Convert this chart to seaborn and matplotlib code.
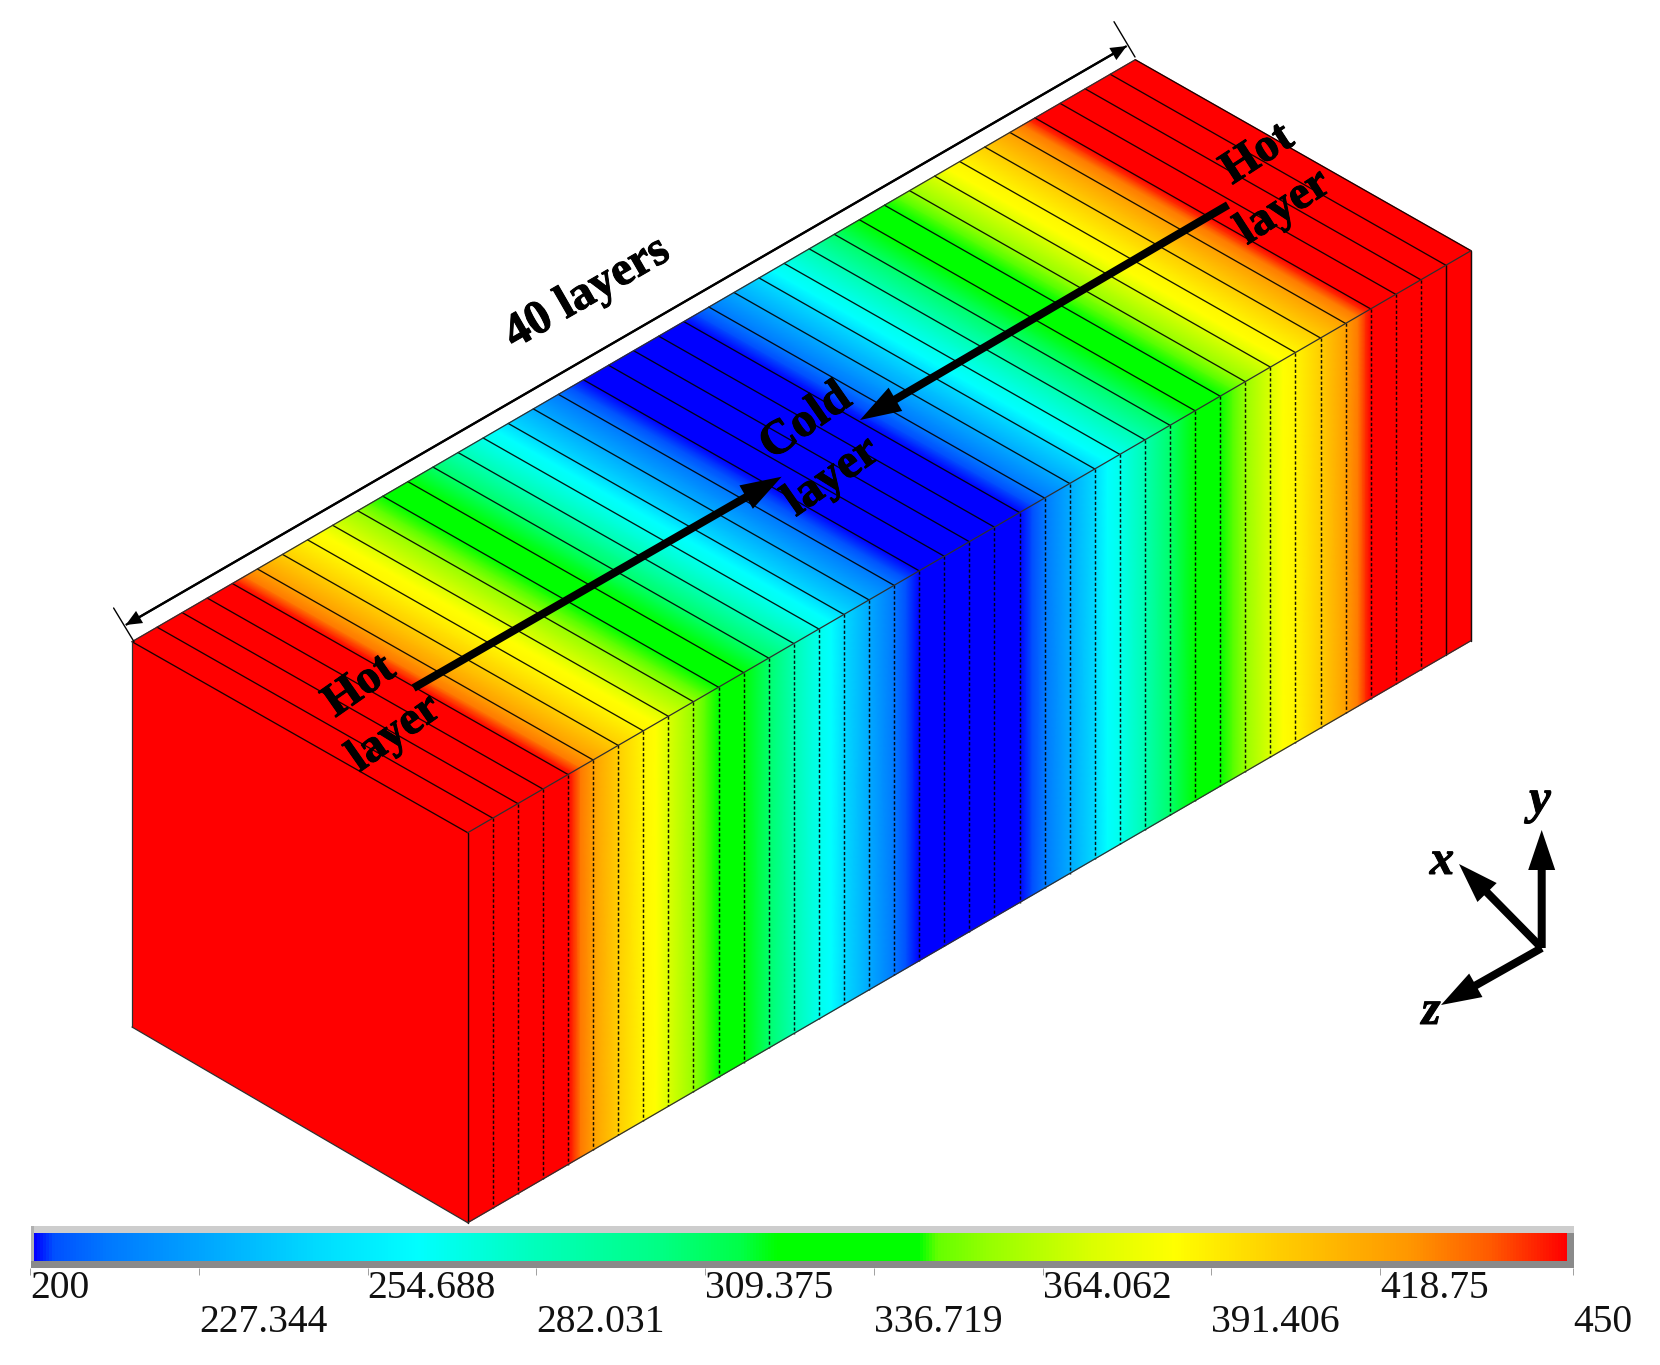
import numpy as np
import matplotlib
matplotlib.use("Agg")
import matplotlib.pyplot as plt
import matplotlib.patheffects as pe
from matplotlib.colors import LinearSegmentedColormap, Normalize
from matplotlib.patches import Polygon, Rectangle, FancyArrowPatch
import seaborn as sns

sns.set_theme(style="white")
plt.rcParams['font.family'] = ['Liberation Serif', 'DejaVu Serif']

# ---- data ----
layer_pos = [0, 4, 4.2, 4.5, 5, 6, 7, 7.5, 8, 9, 9.5, 10, 11, 12, 13, 14, 14.5, 15, 16, 17, 17.5, 18,
             22, 22.5, 23, 24, 25, 25.5, 26, 27, 28, 29, 30, 30.5, 31, 32, 32.5, 33, 34, 35, 35.5, 35.8, 36, 40]
layer_temp = [450, 450, 444, 431, 421, 403, 389, 386, 373, 356, 347, 344.5, 321, 307.5, 285, 267.5, 262.5, 246, 229, 212, 203, 200,
              200, 203, 212, 229, 246, 262.5, 267.5, 285, 307.5, 321, 344.5, 347, 356, 373, 386, 389, 403, 421, 431, 444, 450, 450]
n_layers = 40
cbar_values = [200, 227.344, 254.688, 282.031, 309.375, 336.719, 364.062, 391.406, 418.75, 450]
cbar_labels = ["200", "227.344", "254.688", "282.031", "309.375", "336.719", "364.062", "391.406", "418.75", "450"]
t_min, t_max = 200, 450

_stops = [(0.0, (0, 0, 255)), (0.012, (0, 80, 255)), (0.047, (0, 120, 255)), (0.116, (0, 170, 255)),
          (0.185, (0, 220, 255)), (0.25, (0, 255, 255)), (0.323, (0, 255, 190)), (0.41, (0, 255, 130)),
          (0.461, (0, 255, 70)), (0.484, (0, 255, 0)), (0.578, (0, 255, 0)), (0.59, (100, 255, 0)),
          (0.623, (150, 255, 0)), (0.692, (220, 255, 0)), (0.744, (255, 255, 0)), (0.813, (255, 205, 0)),
          (0.899, (255, 150, 0)), (0.951, (255, 90, 0)), (1.0, (255, 0, 0))]
cmap = LinearSegmentedColormap.from_list("rb", [(f, tuple(v / 255 for v in c)) for f, c in _stops], N=2048)
norm = Normalize(t_min, t_max)

# ---- projection of the box onto the page ----
W, H = 1660, 1365
corner = np.array([467.7, 832.7])
per_layer = np.array([1003.3, -582.0]) / n_layers
depth = np.array([-335.7, -191.0])
height = 390.0

fig = plt.figure(figsize=(W / 100, H / 100), dpi=100, facecolor="white")
ax = fig.add_axes([0, 0, 1, 1])
ax.set_xlim(0, W)
ax.set_ylim(H, 0)
ax.axis("off")


def proj(p, d=0.0, h=0.0):
    x = corner[0] + p * per_layer[0] + d * depth[0]
    y = corner[1] + p * per_layer[1] + d * depth[1] + h * height
    return x, y


pos = np.asarray(layer_pos, float)
temp = np.asarray(layer_temp, float)
C = np.vstack([temp, temp])
P = np.vstack([pos, pos])
ramp = np.array([[0.0], [1.0]])

# side face
fx, fy = proj(P, 0.0, ramp)
ax.pcolormesh(fx, fy, C, cmap=cmap, norm=norm, shading="gouraud", zorder=1)
# top face
tx, ty = proj(P, ramp, 0.0)
ax.pcolormesh(tx, ty, C, cmap=cmap, norm=norm, shading="gouraud", zorder=1)
# end face
end = [proj(0, 0, 0), proj(0, 1, 0), proj(0, 1, 0.988), proj(0, 0, 1)]
ax.add_patch(Polygon(end, closed=True, fc=cmap(norm(layer_temp[0])), ec="none", zorder=1))

# layer lines
for k in range(0, n_layers + 1):
    a, b, c = proj(k, 0, 0), proj(k, 1, 0), proj(k, 0, 1)
    ax.plot([a[0], b[0]], [a[1], b[1]], color="black", lw=0.95, zorder=2, alpha=0.9)
    ls = "-" if k in (0, 39, 40) else (0, (2.2, 1.5))
    ax.plot([a[0], c[0]], [a[1], c[1]], color="black", lw=1.05, ls=ls, zorder=2, alpha=0.9)
# outline
for p1, p2 in [(proj(0, 0, 0), proj(40, 0, 0)), (proj(0, 1, 0), proj(40, 1, 0)), (proj(0, 0, 1), proj(40, 0, 1)),
               (proj(0, 1, 0), proj(0, 1, 0.988)), (proj(0, 1, 0.988), proj(0, 0, 1))]:
    ax.plot([p1[0], p2[0]], [p1[1], p2[1]], color="#303030", lw=0.9, zorder=2)


def arrow(start, tip, tail, hw, hl, z=5):
    # sizes are in pixels, converted to points
    f = 0.72
    style = f"simple,head_length={hl * f},head_width={hw * f},tail_width={tail * f}"
    ax.add_patch(FancyArrowPatch(start, tip, arrowstyle=style, mutation_scale=1, lw=0, fc="black", ec="none",
                                 shrinkA=0, shrinkB=0, zorder=z))


# temperature arrows
arrow((413.6, 688), (781.7, 476.7), 8, 27, 41)
arrow((1228, 205), (860, 420), 8, 27, 41)

# coordinate triad
triad = (1541.7, 948)
arrow(triad, (1541.7, 830), 8, 27, 40)
arrow(triad, (1459, 864), 8, 27, 40)
arrow(triad, (1441, 1005), 8, 27, 40)

# dimension line
arrow((125.7, 625), (1126.7, 46), 2.2, 14, 16)
arrow((1126.7, 46), (125.7, 625), 2.2, 14, 16)
ax.plot([113.6, 134], [608, 641.7], color="black", lw=1.0, zorder=5)
ax.plot([1114, 1135], [21.7, 57], color="black", lw=1.0, zorder=5)

# annotations
stroke = [pe.withStroke(linewidth=0.7, foreground="black")]
bold = dict(fontweight="bold", ha="center", va="center", rotation_mode="anchor", color="black", zorder=6,
            path_effects=stroke)
ax.text(587, 293, "40 layers", fontsize=34.5, rotation=30, **bold)
ax.text(360, 687, "Hot", fontsize=34, rotation=35, **bold)
ax.text(395, 734, "layer", fontsize=34, rotation=35, **bold)
ax.text(1258, 155, "Hot", fontsize=34, rotation=33, **bold)
ax.text(1284, 208, "layer", fontsize=34, rotation=33, **bold)
ax.text(806, 422, "Cold", fontsize=35, rotation=35, **bold)
ax.text(832, 477, "layer", fontsize=35, rotation=35, **bold)
ital = dict(fontweight="bold", fontstyle="italic", ha="center", va="center", color="black", zorder=6,
            path_effects=stroke)
ax.text(1442, 862, "x", fontsize=35, **ital)
ax.text(1540, 801, "y", fontsize=35, **ital)
ax.text(1431, 1012, "z", fontsize=35, **ital)

# colour bar frame
ax.add_patch(Rectangle((31, 1226), 1543, 42, fc="#8a8a8a", ec="none", zorder=1))
ax.add_patch(Rectangle((31, 1226), 1543, 6.7, fc="#cdcdcd", ec="none", zorder=1))
ax.add_patch(Rectangle((31, 1226), 3.4, 35, fc="#b0b0b0", ec="none", zorder=1))


def axes_px(x0, y0, x1, y1):
    return fig.add_axes([x0 / W, 1 - y1 / H, (x1 - x0) / W, (y1 - y0) / H])


# colour bar body
bar_ax = axes_px(34.4, 1232.7, 1567, 1261)
gradient = np.linspace(t_min, t_max, 512)[None, :]
sns.heatmap(gradient, ax=bar_ax, cmap=cmap, norm=norm, cbar=False, xticklabels=False, yticklabels=False)

# colour bar scale
scale_ax = axes_px(30, 1262, 1573, 1268)
scale_ax.patch.set_alpha(0)
scale_ax.set_xlim(t_min, t_max)
scale_ax.set_yticks([])
sns.despine(ax=scale_ax, left=True, bottom=True, top=True, right=True)
scale_ax.set_xticks(cbar_values, cbar_labels)
scale_ax.tick_params(axis="x", bottom=True, length=5, width=0.6, color="#909090", labelsize=28.5, labelcolor="#111111")
for i, t in enumerate(scale_ax.xaxis.get_major_ticks()):
    t.label1.set_ha("left")
    t.set_pad(-3.5 if i % 2 == 0 else 21)

fig.savefig("out.png", dpi=100, facecolor="white")
